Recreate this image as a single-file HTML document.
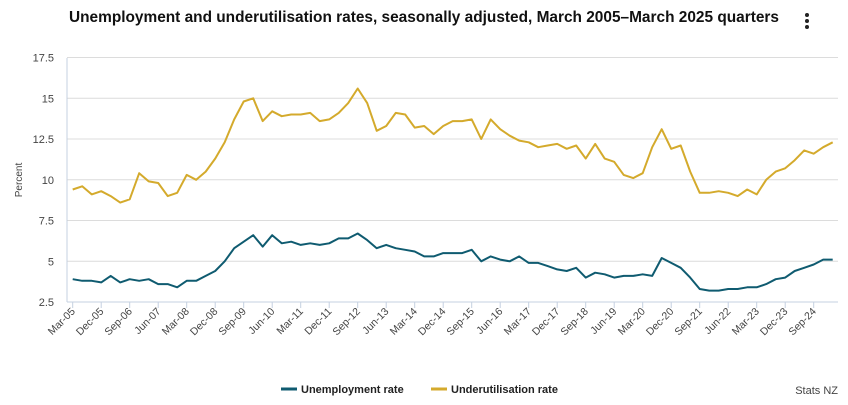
<!DOCTYPE html>
<html><head><meta charset="utf-8"><style>
body{margin:0;width:848px;height:400px;background:#fff;font-family:"Liberation Sans",sans-serif;overflow:hidden}
</style></head><body>
<svg width="848" height="400">
<text x="69" y="22" font-size="15.4" font-weight="bold" fill="#111" textLength="710" lengthAdjust="spacingAndGlyphs">Unemployment and underutilisation rates, seasonally adjusted, March 2005–March 2025 quarters</text>
<g><circle cx="807" cy="15" r="2" fill="#222"/><circle cx="807" cy="21" r="2" fill="#222"/><circle cx="807" cy="27" r="2" fill="#222"/></g>
<g id="grid"></g><g id="xaxis"></g><g id="yaxis"></g><g id="series"></g>
<text transform="translate(22,180) rotate(-90)" font-size="10" fill="#444" text-anchor="middle">Percent</text>
<g><line x1="281" y1="389" x2="297" y2="389" stroke="#0f5b70" stroke-width="3"/><text x="301" y="393" font-size="11" font-weight="bold" fill="#222">Unemployment rate</text></g>
<g><line x1="431" y1="389" x2="447" y2="389" stroke="#d4aa2c" stroke-width="3"/><text x="451" y="393" font-size="11" font-weight="bold" fill="#222">Underutilisation rate</text></g>
<text x="838" y="394" font-size="11" fill="#444" text-anchor="end">Stats NZ</text>
</svg>
<script>
const quarterLabels=["Mar-05","Dec-05","Sep-06","Jun-07","Mar-08","Dec-08","Sep-09","Jun-10","Mar-11","Dec-11","Sep-12","Jun-13","Mar-14","Dec-14","Sep-15","Jun-16","Mar-17","Dec-17","Sep-18","Jun-19","Mar-20","Dec-20","Sep-21","Jun-22","Mar-23","Dec-23","Sep-24"];
const yTicks=[2.5,5,7.5,10,12.5,15,17.5];
const yTickLabels=["2.5","5","7.5","10","12.5","15","17.5"];
const unemployment=[3.9,3.8,3.8,3.7,4.1,3.7,3.9,3.8,3.9,3.6,3.6,3.4,3.8,3.8,4.1,4.4,5.0,5.8,6.2,6.6,5.9,6.6,6.1,6.2,6.0,6.1,6.0,6.1,6.4,6.4,6.7,6.3,5.8,6.0,5.8,5.7,5.6,5.3,5.3,5.5,5.5,5.5,5.7,5.0,5.3,5.1,5.0,5.3,4.9,4.9,4.7,4.5,4.4,4.6,4.0,4.3,4.2,4.0,4.1,4.1,4.2,4.1,5.2,4.9,4.6,4.0,3.3,3.2,3.2,3.3,3.3,3.4,3.4,3.6,3.9,4.0,4.4,4.6,4.8,5.1,5.1];
const underutilisation=[9.4,9.6,9.1,9.3,9.0,8.6,8.8,10.4,9.9,9.8,9.0,9.2,10.3,10.0,10.5,11.3,12.3,13.7,14.8,15.0,13.6,14.2,13.9,14.0,14.0,14.1,13.6,13.7,14.1,14.7,15.6,14.7,13.0,13.3,14.1,14.0,13.2,13.3,12.8,13.3,13.6,13.6,13.7,12.5,13.7,13.1,12.7,12.4,12.3,12.0,12.1,12.2,11.9,12.1,11.3,12.2,11.3,11.1,10.3,10.1,10.4,12.0,13.1,11.9,12.1,10.5,9.2,9.2,9.3,9.2,9.0,9.4,9.1,10.0,10.5,10.7,11.2,11.8,11.6,12.0,12.3];
const NS="http://www.w3.org/2000/svg";
const x=i=>72.7+i*9.5;
const y=v=>302-(v-2.5)*16.3;
function mk(tag,attrs,parent){const e=document.createElementNS(NS,tag);for(const k in attrs)e.setAttribute(k,attrs[k]);document.getElementById(parent).appendChild(e);return e;}
yTicks.forEach((t,i)=>{
  if(i>0){const g=mk('line',{x1:67,x2:838,y1:y(t),y2:y(t),stroke:'#dcdcdc','stroke-width':1},'grid');
  
  }
  const l=mk('text',{x:54,y:y(t)+4,'font-size':11,fill:'#444','text-anchor':'end'},'yaxis');
  l.textContent=yTickLabels[i];
  
  
});
const ax=mk('line',{x1:67,x2:838,y1:302,y2:302,stroke:'#c5d0e0','stroke-width':1},'xaxis');


const yl=mk('line',{x1:67,x2:67,y1:58,y2:302,stroke:'#c5d0e0','stroke-width':1},'xaxis');


quarterLabels.forEach((q,k)=>{
  const xi=x(k*3);
  const t=mk('line',{x1:xi,x2:xi,y1:302,y2:308,stroke:'#c5d0e0'},'xaxis');
  
  
  const l=mk('text',{transform:`translate(${xi+3},${312}) rotate(-45)`,'font-size':10.5,fill:'#444','text-anchor':'end'},'xaxis');
  l.textContent=q;
  
  
});
function line(data,color,name){
  const p=mk('path',{d:data.map((v,i)=>(i?'L':'M')+x(i).toFixed(1)+','+y(v).toFixed(1)).join(''),fill:'none',stroke:color,'stroke-width':2,'stroke-linejoin':'round'},'series');
  
  
}
line(underutilisation,'#d4aa2c','underutilisation-line');
line(unemployment,'#0f5b70','unemployment-line');
</script>
</body></html>
